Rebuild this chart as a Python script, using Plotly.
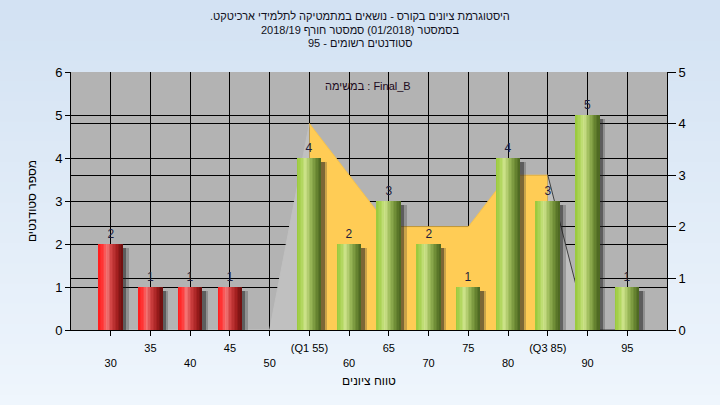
import plotly.graph_objects as go

# ---------------- data ----------------
grades = [30, 35, 40, 45, 50, 55, 60, 65, 70, 75, 80, 85, 90, 95]
tick_labels = ["30", "35", "40", "45", "50", "(Q1 55)", "60", "65", "70", "75",
               "80", "(Q3 85)", "90", "95"]
students = [2, 1, 1, 1, 0, 4, 2, 3, 2, 1, 4, 3, 5, 1]
curve = [0, 0, 0, 0, 0, 4, 3, 2, 2, 2, 3, 3, 0, 0]
q1_grade = 55
q3_grade = 85
pass_grade = 55

title_lines = [
    "היסטוגרמת ציונים בקורס - נושאים במתמטיקה לתלמידי ארכיטקט.",
    "בסמסטר (01/2018) סמסטר חורף 2018/19",
    "סטודנטים רשומים - 95",
]
x_title = "טווח ציונים"
y_title = "מספר סטודנטים"
task_label = "במשימה : Final_B"

FONT = "Arial, 'Liberation Sans', 'DejaVu Sans', sans-serif"
RLE, PDF = "\u202b", "\u202c"

# page geometry of plot area (px)
L, R, T, B = 71, 667, 72, 330
PW, PH = R - L, B - T


def py2paper(py):
    return (B - py) / PH


def hexrgb(h):
    h = h.lstrip("#")
    return tuple(int(h[i:i + 2], 16) for i in (0, 2, 4))


def interp(stops, t):
    for (t0, c0), (t1, c1) in zip(stops[:-1], stops[1:]):
        if t0 <= t <= t1:
            a = (t - t0) / (t1 - t0) if t1 > t0 else 0
            r0, g0, b0 = hexrgb(c0)
            r1, g1, b1 = hexrgb(c1)
            return "rgb(%d,%d,%d)" % (r0 + (r1 - r0) * a, g0 + (g1 - g0) * a, b0 + (b1 - b0) * a)
    return stops[-1][1]


red_stops = [(0, "#ff1a1a"), (0.2, "#ff3a3a"), (0.36, "#f37878"), (0.55, "#cf4040"),
             (0.8, "#a11e1e"), (1, "#6a0e0e")]
green_stops = [(0, "#98c83a"), (0.2, "#b0d65c"), (0.36, "#cfe48c"), (0.55, "#9fbd5c"),
               (0.8, "#6d8b35"), (1, "#4a6420")]

fig = go.Figure()

# ---------------- distribution area (right axis) ----------------
i1 = grades.index(q1_grade)
i3 = grades.index(q3_grade)
segments = [
    (slice(0, i1 + 1), "#c0c0c0", "#c0c0c0"),
    (slice(i1, i3 + 1), "#ffcc55", "#f5c24e"),
    (slice(i3, len(grades)), "#c0c0c0", "#404040"),
]
for sl, fillc, linec in segments:
    fig.add_trace(go.Scatter(
        x=grades[sl], y=curve[sl], mode="lines", fill="tozeroy",
        fillcolor=fillc, line=dict(color=linec, width=1),
        xaxis="x", yaxis="y", hoverinfo="skip", showlegend=False))

# ---------------- bars (left axis) ----------------
BW = 3.0
is_pass = [g >= pass_grade for g in grades]

# shadows
fig.add_trace(go.Bar(x=grades, y=students, base=[-0.1] * len(grades), width=BW, offset=-BW / 2 + 0.75,
                     marker=dict(color="rgba(40,40,40,0.25)", line=dict(width=0)),
                     xaxis="x", yaxis="y2", hoverinfo="skip", showlegend=False))
fig.add_trace(go.Bar(x=grades, y=students, base=[-0.1] * len(grades), width=BW, offset=-BW / 2 + 0.45,
                     marker=dict(color="rgba(30,30,30,0.45)", line=dict(width=0)),
                     xaxis="x", yaxis="y2", hoverinfo="skip", showlegend=False))

# base bar with labels
fig.add_trace(go.Bar(
    x=grades, y=students, width=BW, offset=-BW / 2,
    marker=dict(color=[interp(green_stops if p else red_stops, 0.5) for p in is_pass],
                line=dict(width=0)),
    text=[str(v) if v else "" for v in students], textposition="outside",
    textfont=dict(family=FONT, size=12, color="#1c1c3c"), cliponaxis=False,
    xaxis="x", yaxis="y2", hoverinfo="skip", showlegend=False))

# gradient strips
N = 16
w = BW / N
for i in range(N):
    t = (i + 0.5) / N
    cols = [interp(green_stops if p else red_stops, t) for p in is_pass]
    fig.add_trace(go.Bar(
        x=grades, y=students, width=w + 0.02, offset=-BW / 2 + i * w,
        marker=dict(color=cols, line=dict(width=0)),
        xaxis="x", yaxis="y2", hoverinfo="skip", showlegend=False))

# ---------------- background gradient ----------------
shapes = []
top, bot = hexrgb("#d3e2f3"), hexrgb("#eff6fd")
NS = 40
for k in range(NS):
    a = k / (NS - 1)
    c = "rgb(%d,%d,%d)" % tuple(top[j] + (bot[j] - top[j]) * a for j in range(3))
    py0 = k * 405 / NS
    py1 = (k + 1) * 405 / NS + 1
    shapes.append(dict(type="rect", xref="paper", yref="paper", layer="below",
                       x0=-L / PW, x1=(720 - L) / PW,
                       y0=py2paper(py1), y1=py2paper(py0),
                       fillcolor=c, line=dict(width=0)))
shapes.append(dict(type="rect", xref="paper", yref="paper", layer="below",
                   x0=0, x1=1, y0=0, y1=1, fillcolor="#b3b3b3", line=dict(width=0)))

ticktext = [lab if i % 2 == 1 else "\u00a0<br>" + lab for i, lab in enumerate(tick_labels)]

annotations = []
for s, py in zip(title_lines, [16, 30, 43]):
    annotations.append(dict(text=RLE + s + PDF, xref="paper", yref="paper",
                            x=(360 - L) / PW, y=py2paper(py), xanchor="center", yanchor="middle",
                            showarrow=False, font=dict(family=FONT, size=11, color="#101020")))
annotations.append(dict(text=task_label, xref="paper", yref="paper",
                        x=(368 - L) / PW, y=py2paper(86), xanchor="center", yanchor="middle",
                        showarrow=False, font=dict(family=FONT, size=11, color="#200a20")))

fig.update_layout(
    width=720, height=405,
    margin=dict(l=L, r=720 - R, t=T, b=405 - B),
    paper_bgcolor="#e2ecf8", plot_bgcolor="rgba(0,0,0,0)",
    barmode="overlay", bargap=0,
    font=dict(family=FONT, size=12, color="#000000"),
    shapes=shapes,
    xaxis=dict(range=[25, 100], tickvals=grades, ticktext=ticktext,
               tickfont=dict(family=FONT, size=11, color="#000000"),
               ticks="outside", ticklen=5, tickcolor="#000000", ticklabelstandoff=3,
               showline=True, linecolor="#000000", linewidth=1,
               showgrid=True, gridcolor="#000000", gridwidth=1, zeroline=False,
               anchor="y", automargin=False,
               title=dict(text=RLE + x_title + PDF, standoff=9,
                          font=dict(family=FONT, size=12, color="#000000"))),
    yaxis=dict(range=[0, 5], dtick=1, side="right", anchor="x", automargin=False,
               tickfont=dict(family=FONT, size=13, color="#000000"),
               ticks="outside", ticklen=8, tickcolor="#000000",
               showline=True, linecolor="#000000", linewidth=1,
               showgrid=True, gridcolor="#000000", gridwidth=1, zeroline=False),
    yaxis2=dict(range=[0, 6], dtick=1, side="left", overlaying="y", anchor="x", automargin=False,
                tickfont=dict(family=FONT, size=13, color="#000000"),
                ticks="outside", ticklen=5, tickcolor="#000000",
                showline=True, linecolor="#000000", linewidth=1,
                showgrid=True, gridcolor="#000000", gridwidth=1, zeroline=False,
                title=dict(text=y_title, standoff=15,
                           font=dict(family=FONT, size=12, color="#000000"))),
    annotations=annotations,
)

fig.write_html("out.html", config={"displayModeBar": False},
               post_script="document.body.style.margin='0';document.body.style.padding='0';")
